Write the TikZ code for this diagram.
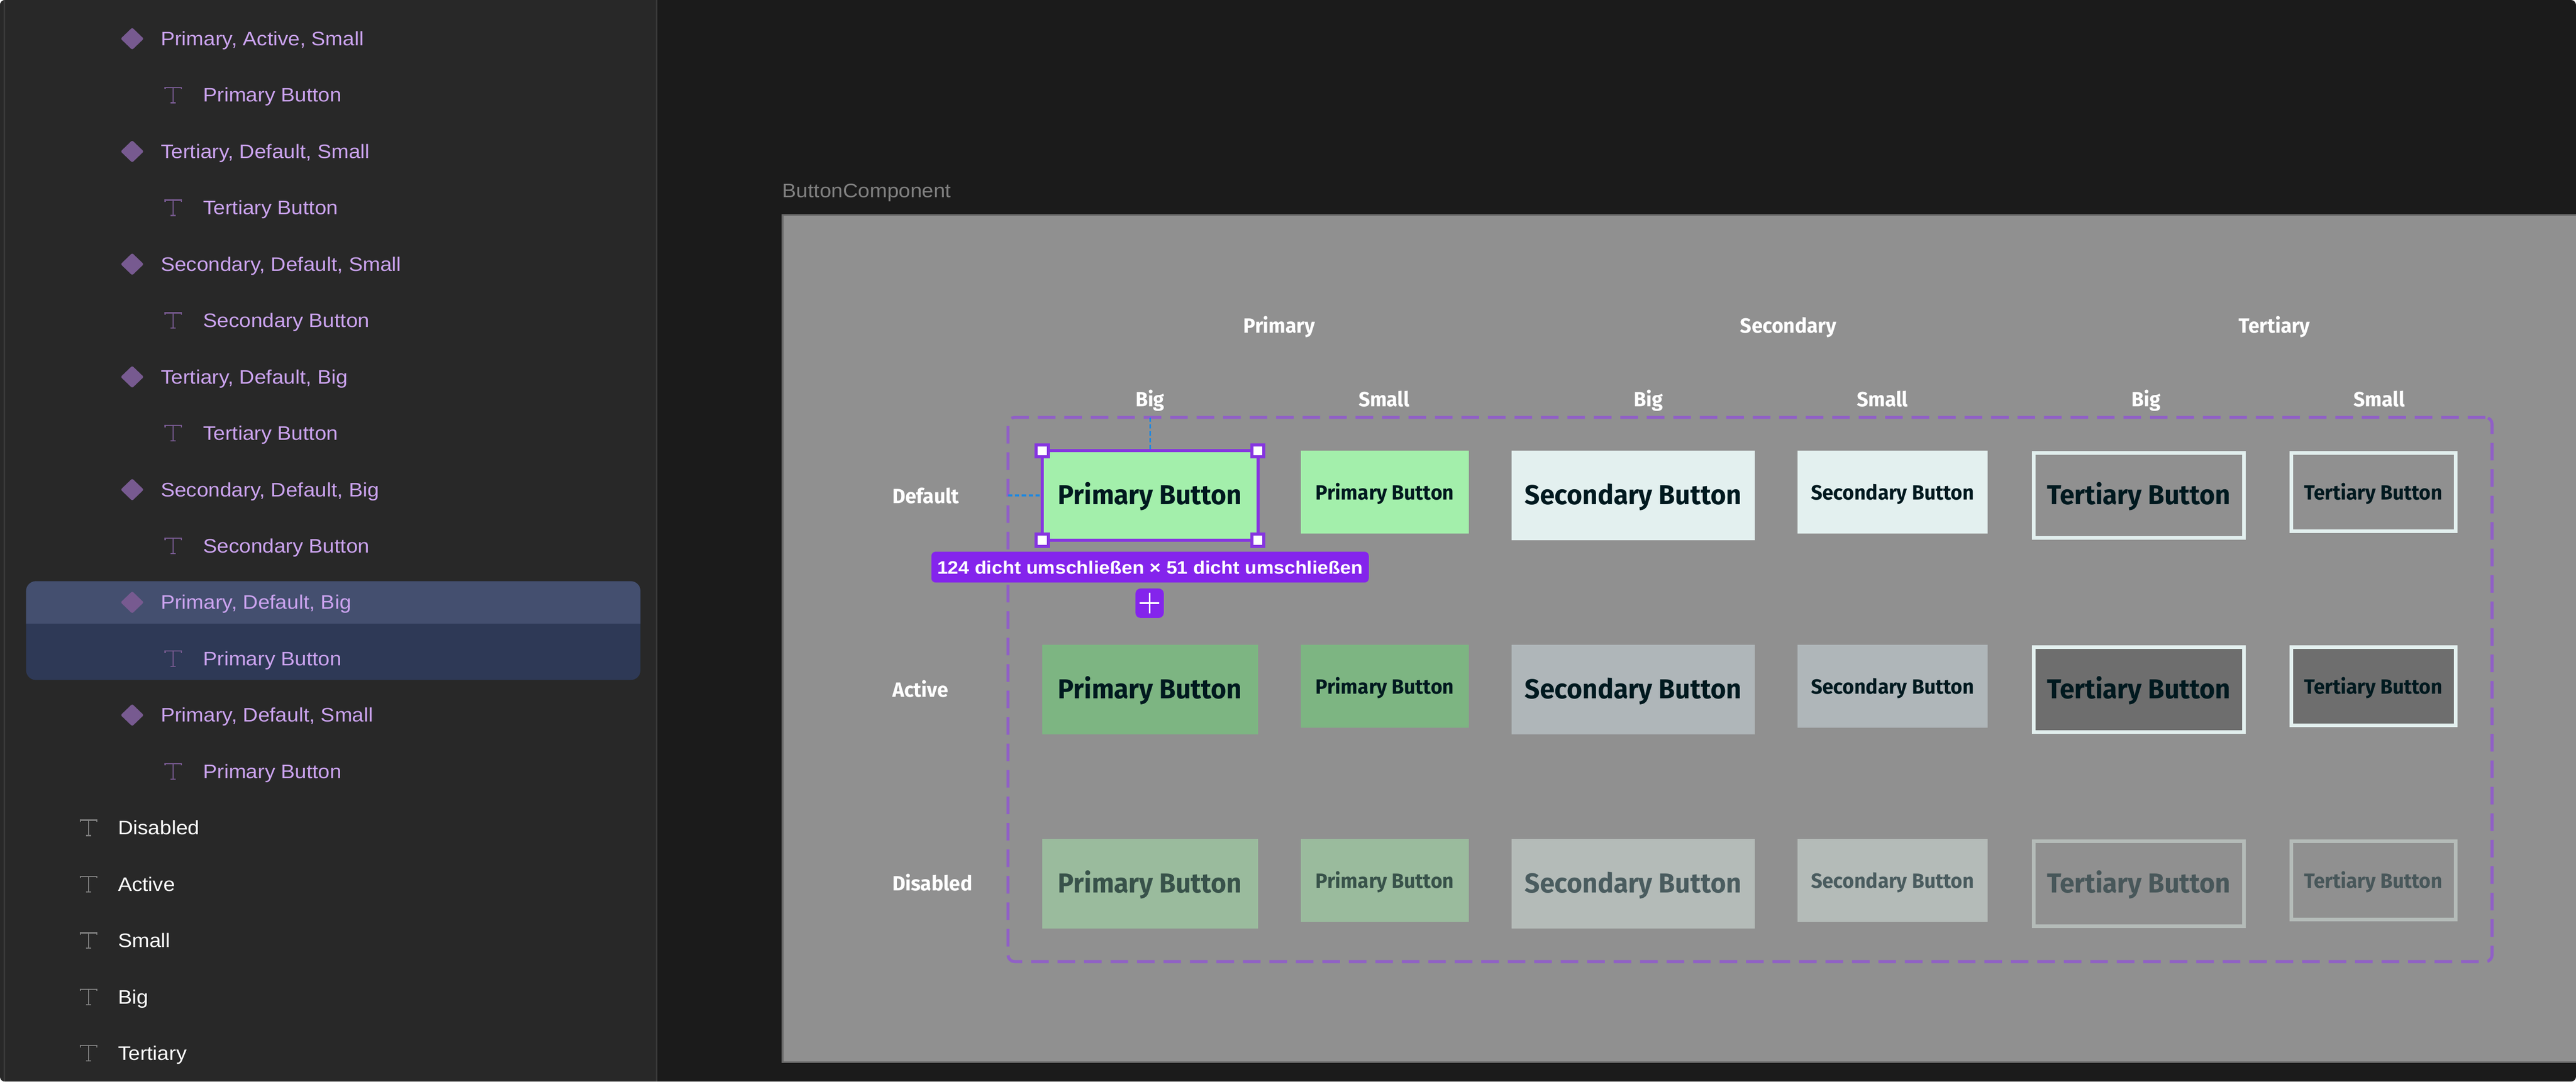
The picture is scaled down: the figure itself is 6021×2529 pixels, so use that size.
\documentclass[tikz,border=0pt]{standalone}
\usepackage{fontspec}
\setmainfont{Liberation Sans}
\newfontfamily\uifam[FakeStretch=1.07]{Liberation Sans}
\newfontfamily\tagfam[FakeStretch=1.07]{Liberation Sans}
\newfontfamily\btnfam[FakeStretch=0.97]{Fira Sans}
\newcommand\uitext{\uifam\fontsize{13}{15}\selectfont}
\newcommand\tagtext{\tagfam\bfseries\fontsize{12}{14}\selectfont}
\newcommand\bigbtn{\btnfam\bfseries\fontsize{18.2}{20}\selectfont}
\newcommand\smallbtn{\btnfam\bfseries\fontsize{13.7}{15}\selectfont}
\definecolor{windowbg}{HTML}{1B1B1B}
\definecolor{sidebg}{HTML}{282828}
\definecolor{sideline}{HTML}{3A3A3A}
\definecolor{canvasbg}{HTML}{909090}
\definecolor{canvasedge}{HTML}{6B6B6B}
\definecolor{lilac}{HTML}{CBA3EF}
\definecolor{dimlilac}{HTML}{775A90}
\definecolor{dimgrey}{HTML}{808080}
\definecolor{selA}{HTML}{444F6F}
\definecolor{selB}{HTML}{2E3956}
\definecolor{figma}{HTML}{8424EC}
\definecolor{figline}{HTML}{8635E0}
\definecolor{framedash}{HTML}{9060C6}
\definecolor{guide}{HTML}{1E88E0}
\definecolor{priD}{HTML}{A3EFAB}
\definecolor{priA}{HTML}{7DB582}
\definecolor{priX}{HTML}{9ABB9D}
\definecolor{secD}{HTML}{E3F0EF}
\definecolor{secA}{HTML}{AFB6B9}
\definecolor{secX}{HTML}{B4BBB8}
\definecolor{terA}{HTML}{6E6E6E}
\definecolor{inkD}{HTML}{00191F}
\definecolor{inkP}{HTML}{38524A}
\definecolor{inkS}{HTML}{4A5C5F}
\definecolor{inkT}{HTML}{48575A}
\tikzset{
  x=0.01cm,y=-0.01cm,
  label text/.style={inner sep=0pt,outer sep=0pt,anchor=base},
  uiline/.style={inner sep=0pt,outer sep=0pt,anchor=base west,font=\uitext},
  heading/.style={label text,text=white,font=\smallbtn},
  rowhead/.style={inner sep=0pt,outer sep=0pt,anchor=base west,text=white,font=\smallbtn},
  solidbtn/.style={fill=#1},
  linebtn/.style={draw=#1,line width=2.4pt},
  grab/.style={draw=figline,line width=2pt,fill=white,minimum size=8pt,inner sep=0pt},
  hint/.style={guide,line width=1pt,dash pattern=on 2.8pt off 1.8pt},
}
% name, x1, x2, top, height, box style, ink colour, font, text
\newcommand\btn[9]{%
  \pgfmathsetmacro\bw{(#3-#2)*0.2845}%
  \pgfmathsetmacro\bh{(#5)*0.2845}%
  \pgfmathsetmacro\bm{(#2+#3)/2}%
  \pgfmathsetmacro\bb{#4+\btnbase}%
  \node[#6,anchor=north west,inner sep=0pt,outer sep=0pt,minimum width=\bw pt,minimum height=\bh pt] (#1) at (#2,#4) {};
  \node[label text,text=#7,font=#8] (#1t) at (\bm,\bb) {#9};
}
\newcommand\bigb[7]{\def\btnbase{126}\btn{#1}{#2}{#3}{#4}{209}{#5}{#6}{\bigbtn}{#7}}
\newcommand\smlb[7]{\def\btnbase{115}\btn{#1}{#2}{#3}{#4}{193}{#5}{#6}{\smallbtn}{#7}}
\newcommand\bigo[7]{\def\btnbase{121}\btn{#1}{#2}{#3}{#4}{199}{#5}{#6}{\bigbtn}{#7}}
\newcommand\smlo[7]{\def\btnbase{110}\btn{#1}{#2}{#3}{#4}{183}{#5}{#6}{\smallbtn}{#7}}
\newcommand\ticon[3]{%
  \draw[#3,line width=0.75pt] (#1-19,#2-14) -- (#1-19,#2-18) -- (#1+19,#2-18) -- (#1+19,#2-14);
  \draw[#3,line width=0.75pt] (#1,#2-18) -- (#1,#2+18);
  \draw[#3,line width=0.75pt] (#1-6,#2+18) -- (#1+6,#2+18);
}
\newcommand\gem[2]{%
  \fill[dimlilac,rounded corners=1pt] (#1,#2-26) -- (#1+27,#2) -- (#1,#2+26) -- (#1-27,#2) -- cycle;
}
\begin{document}
\begin{tikzpicture}
\useasboundingbox (0,0) rectangle (6021,2529);
\fill[white] (0,0) rectangle (6021,2529);
\fill[windowbg,rounded corners=3.4pt] (0,0) rectangle (6021,2529);
% sidebar
\begin{scope}
\clip[rounded corners=3.4pt] (0,0) rectangle (6021,2529);
\fill[sidebg] (0,0) rectangle (1535,2529);
\fill[sideline] (8,0) rectangle (12,2529);
\fill[sideline] (1533,0) rectangle (1537,2529);
\end{scope}
% selected rows
\fill[selB,rounded corners=6.5pt] (61,1359) rectangle (1497,1590);
\begin{scope}
\clip (61,1359) rectangle (1497,1458);
\fill[selA,rounded corners=6.5pt] (61,1359) rectangle (1497,1590);
\end{scope}
% layer rows
\foreach \i/\t in {0/{Primary, Active, Small},2/{Tertiary, Default, Small},4/{Secondary, Default, Small},6/{Tertiary, Default, Big},8/{Secondary, Default, Big},10/{Primary, Default, Big},12/{Primary, Default, Small}}{
  \pgfmathsetmacro\ry{90.5+131.8*\i}
  \gem{309}{\ry}
  \node[uiline,text=lilac] (row\i) at (376,\ry+16) {\t};
}
\foreach \i/\t in {1/{Primary Button},3/{Tertiary Button},5/{Secondary Button},7/{Tertiary Button},9/{Secondary Button},11/{Primary Button},13/{Primary Button}}{
  \pgfmathsetmacro\ry{90.5+131.8*\i}
  \ticon{405}{\ry}{dimlilac}
  \node[uiline,text=lilac] (row\i) at (475,\ry+16) {\t};
}
\foreach \i/\t in {14/Disabled,15/Active,16/Small,17/Big,18/Tertiary}{
  \pgfmathsetmacro\ry{90.5+131.8*\i}
  \ticon{207}{\ry}{dimgrey}
  \node[uiline,text=white] (row\i) at (276,\ry+16) {\t};
}
% canvas
\node[uiline,text=dimgrey] (frametitle) at (1829,462) {ButtonComponent};
\fill[canvasedge] (1827,501) rectangle (6021,2486);
\fill[canvasbg] (1831,505) rectangle (6021,2482);
% column and row headings
\node[heading] (hp) at (2990,778) {Primary};
\node[heading] (hs) at (4180,778) {Secondary};
\node[heading] (ht) at (5316,778) {Tertiary};
\node[heading] (c1) at (2688,951) {Big};
\node[heading] (c2) at (3235,951) {Small};
\node[heading] (c3) at (3853,951) {Big};
\node[heading] (c4) at (4400,951) {Small};
\node[heading] (c5) at (5016,951) {Big};
\node[heading] (c6) at (5561,951) {Small};
\node[rowhead] (r1) at (2086,1177) {Default};
\node[rowhead] (r2) at (2086,1630) {Active};
\node[rowhead] (r3) at (2086,2083) {Disabled};
% component set frame
\node[draw=framedash,line width=2pt,dash pattern=on 11.7pt off 5.9pt,rounded corners=4.5pt,anchor=north west,inner sep=0pt,outer sep=0pt,minimum width=986.4pt,minimum height=361.9pt] (frame) at (2356,976) {};
% buttons: default row
\bigb{pbd}{2436}{2940}{1054}{solidbtn=priD}{inkD}{Primary Button}
\smlb{psd}{3041}{3433}{1054}{solidbtn=priD}{inkD}{Primary Button}
\bigb{sbd}{3533}{4101}{1054}{solidbtn=secD}{inkD}{Secondary Button}
\smlb{ssd}{4201}{4646}{1054}{solidbtn=secD}{inkD}{Secondary Button}
\bigo{tbd}{4753}{5245}{1059}{linebtn=secD}{inkD}{Tertiary Button}
\smlo{tsd}{5356}{5739}{1059}{linebtn=secD}{inkD}{Tertiary Button}
% buttons: active row
\bigb{pba}{2436}{2940}{1508}{solidbtn=priA}{inkD}{Primary Button}
\smlb{psa}{3041}{3433}{1508}{solidbtn=priA}{inkD}{Primary Button}
\bigb{sba}{3533}{4101}{1508}{solidbtn=secA}{inkD}{Secondary Button}
\smlb{ssa}{4201}{4646}{1508}{solidbtn=secA}{inkD}{Secondary Button}
\bigo{tba}{4753}{5245}{1513}{linebtn=secD,fill=terA}{inkD}{Tertiary Button}
\smlo{tsa}{5356}{5739}{1513}{linebtn=secD,fill=terA}{inkD}{Tertiary Button}
% buttons: disabled row
\bigb{pbx}{2436}{2940}{1962}{solidbtn=priX}{inkP}{Primary Button}
\smlb{psx}{3041}{3433}{1962}{solidbtn=priX}{inkP}{Primary Button}
\bigb{sbx}{3533}{4101}{1962}{solidbtn=secX}{inkS}{Secondary Button}
\smlb{ssx}{4201}{4646}{1962}{solidbtn=secX}{inkS}{Secondary Button}
\bigo{tbx}{4753}{5245}{1967}{linebtn=secX}{inkT}{Tertiary Button}
\smlo{tsx}{5356}{5739}{1967}{linebtn=secX}{inkT}{Tertiary Button}
% selection overlay
\node[draw=figline,line width=2pt,anchor=north west,inner sep=0pt,outer sep=0pt,minimum width=143.4pt,minimum height=59.5pt] (sel) at (2436,1054) {};
\draw[hint] (frame.north -| sel.north) -- (sel.north);
\draw[hint,line width=1.4pt] (frame.west |- sel.west) -- (sel.west);
\node[grab] (g1) at (sel.north west) {};
\node[grab] (g2) at (sel.north east) {};
\node[grab] (g3) at (sel.south west) {};
\node[grab] (g4) at (sel.south east) {};
\node[fill=figma,rounded corners=2.8pt,anchor=north west,inner sep=0pt,outer sep=0pt,minimum width=290.7pt,minimum height=20.5pt] (tag) at (2177,1290) {};
\node[label text,text=white,font=\tagtext] (tagt) at (2688,1342) {124 dicht umschließen × 51 dicht umschließen};
\node[fill=figma,rounded corners=3.4pt,anchor=north west,inner sep=0pt,outer sep=0pt,minimum width=18.8pt,minimum height=19.6pt] (addbtn) at (2654,1376) {};
\draw[white,line width=1.3pt] ([xshift=-6.5pt]addbtn.center) -- ([xshift=6.5pt]addbtn.center);
\draw[white,line width=1.3pt] ([yshift=-6.9pt]addbtn.center) -- ([yshift=6.9pt]addbtn.center);
\end{tikzpicture}
\end{document}
